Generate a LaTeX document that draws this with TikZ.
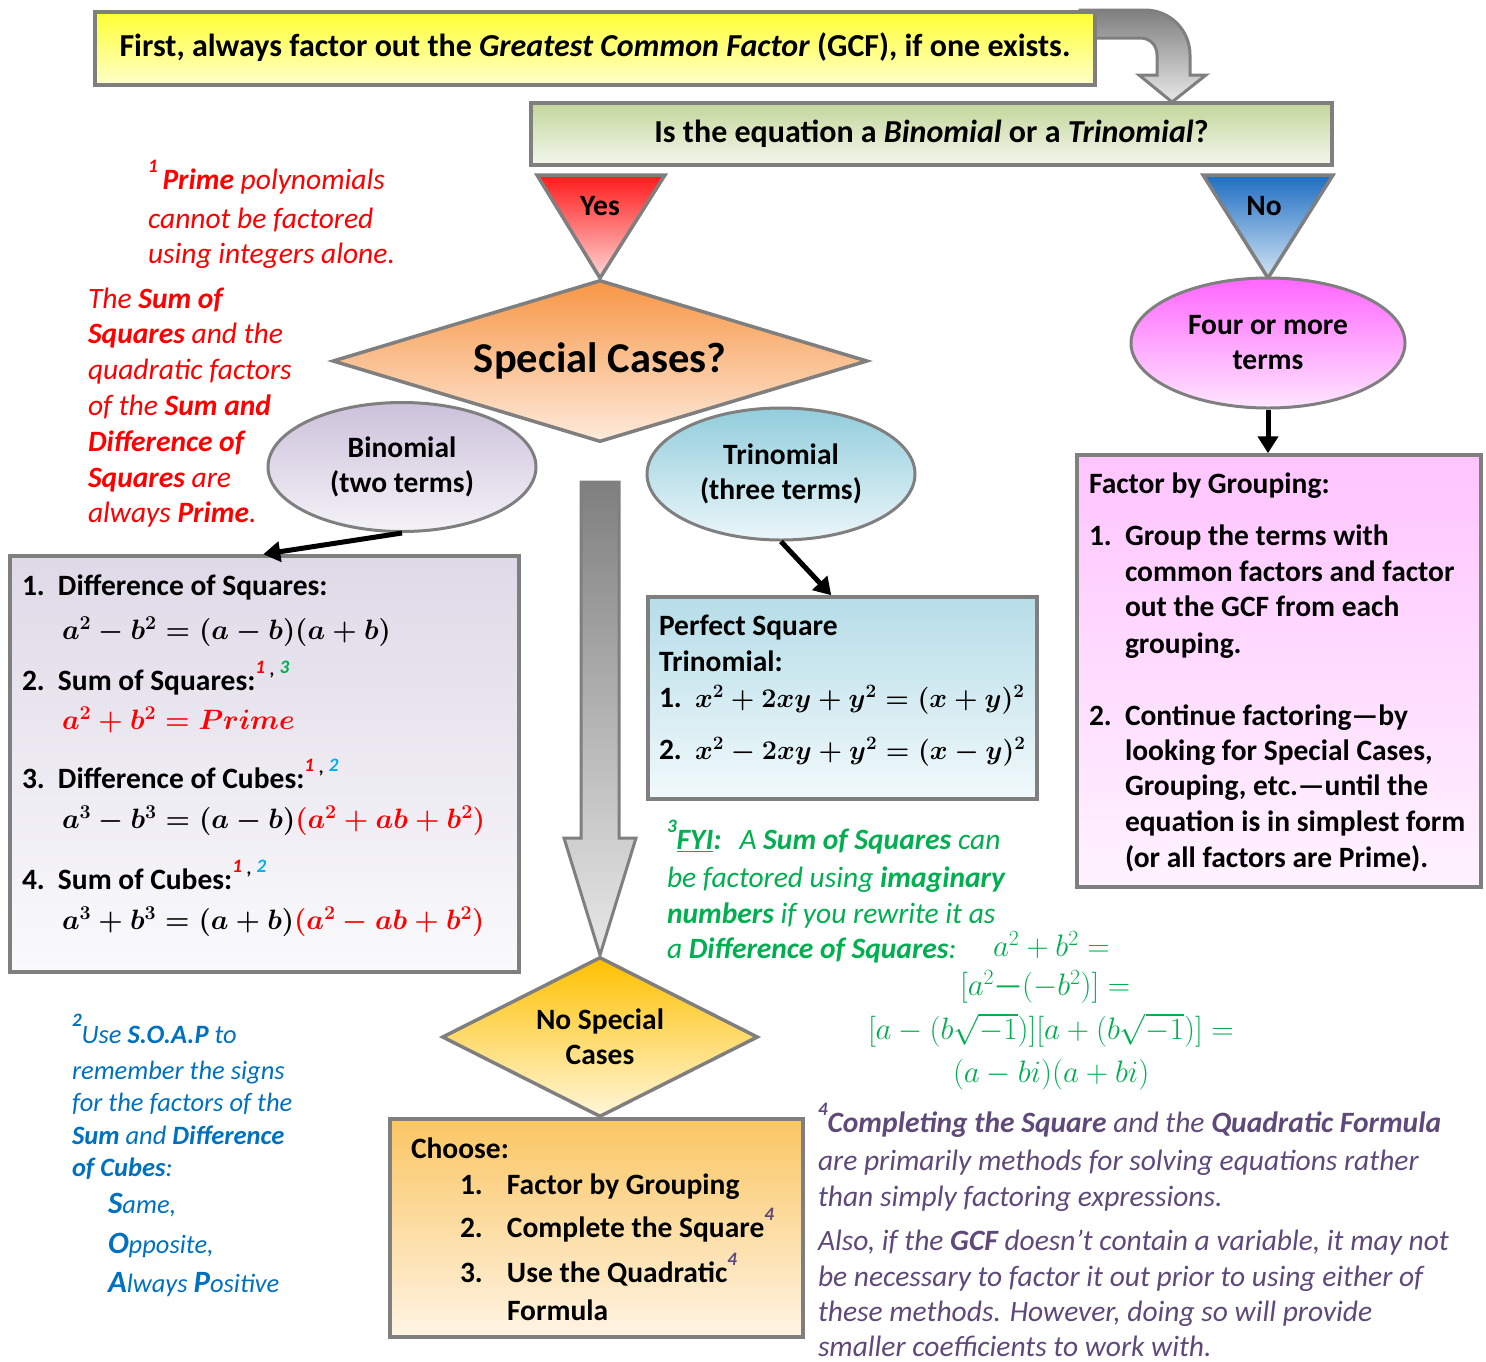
\RequirePackage{fix-cm}
\documentclass[tikz,border=0pt]{standalone}
\usepackage{fontspec}
\setmainfont{Carlito}
\usetikzlibrary{shapes.geometric,arrows.meta}
\definecolor{bord}{HTML}{7F7F7F}
\definecolor{nred}{HTML}{FF0000}
\definecolor{ngreen}{HTML}{00B050}
\definecolor{nblue}{HTML}{0070C0}
\definecolor{npurple}{HTML}{5F497A}
\definecolor{nsky}{HTML}{00B0F0}
\definecolor{ylT}{HTML}{FFFF33}
\definecolor{ylB}{HTML}{FFFFCC}
\definecolor{grT}{HTML}{C3D69B}
\definecolor{grB}{HTML}{F3F7EC}
\definecolor{yesT}{HTML}{FF1A1A}
\definecolor{yesB}{HTML}{FFD6D6}
\definecolor{noT}{HTML}{1F6DC2}
\definecolor{noB}{HTML}{D2E5F4}
\definecolor{spT}{HTML}{F79646}
\definecolor{spB}{HTML}{FDEBDC}
\definecolor{biT}{HTML}{CCC1DA}
\definecolor{biB}{HTML}{F4F2F8}
\definecolor{trT}{HTML}{92CDDC}
\definecolor{trB}{HTML}{EBF6F9}
\definecolor{foT}{HTML}{FF66FF}
\definecolor{foB}{HTML}{FFE6FF}
\definecolor{lbT}{HTML}{DFD9E7}
\definecolor{lbB}{HTML}{FAFAFC}
\definecolor{pbT}{HTML}{B6DDE8}
\definecolor{pbB}{HTML}{F1F9FB}
\definecolor{fbT}{HTML}{FFC4FF}
\definecolor{fbB}{HTML}{FFF3FF}
\definecolor{nsT}{HTML}{FFC000}
\definecolor{nsB}{HTML}{FFF6DA}
\definecolor{chT}{HTML}{FAC663}
\definecolor{chB}{HTML}{FFF4E4}
\definecolor{arT}{HTML}{7F7F7F}
\definecolor{arB}{HTML}{E8E8E8}
\newcommand{\mysup}[2]{\raisebox{17pt}{\fontsize{19}{19}\selectfont\bfseries\itshape\textcolor{#1}{#2}}}
\newcommand{\numb}[1]{\makebox[36pt][l]{#1}}
\newcommand{\bmath}[1]{{\boldmath$#1$}}
\newcommand{\supcomma}{{\fontsize{19}{19}\selectfont\bfseries\itshape\raisebox{15pt}{,}}}
\tikzset{
  box/.style={draw=bord, line width=3.5pt, rectangle, inner sep=0pt},
  shp/.style={draw=bord, line width=3.5pt, inner sep=0pt},
  ln/.style={anchor=mid west, inner sep=0pt, outer sep=0pt, yshift=-6pt},
  bln/.style={ln, font=\fontsize{29.5}{35}\selectfont\bfseries},
  mth/.style={ln, font=\fontsize{28}{35}\selectfont},
  gmth/.style={ln, text=ngreen, font=\fontsize{31}{35}\selectfont},
  rnote/.style={ln, text=nred, font=\fontsize{29.5}{35}\selectfont\itshape},
  gnote/.style={ln, text=ngreen, font=\fontsize{29.5}{35}\selectfont\itshape},
  bnote/.style={ln, text=nblue, font=\fontsize{26.5}{35}\selectfont\itshape},
  pnote/.style={ln, text=npurple, font=\fontsize{29.5}{35}\selectfont\itshape},
  lbl/.style={font=\fontsize{29.5}{35}\selectfont\bfseries, align=center, inner sep=0pt},
  blk/.style={-{Triangle[length=17pt,width=20pt]}, line width=5pt, black},
  gry/.style={draw=bord, line width=3pt},
}
\begin{document}
\begin{tikzpicture}[x=1pt,y=-1pt]
\useasboundingbox (0,0) rectangle (1486,1361);
% ---------- curved gray arrow ----------
\path[gry, top color=arT, bottom color=arB]
  (1080,10) -- (1145,10) .. controls (1170,10) and (1190,30) .. (1190,55)
  -- (1190,75) -- (1206,75) -- (1172,102) -- (1139,75) -- (1157,75) -- (1157,55)
  .. controls (1157,45) and (1150,38) .. (1140,38) -- (1080,38) -- cycle;
% ---------- top boxes ----------
\node[box, minimum width=1000pt, minimum height=73pt, top color=ylT, bottom color=ylB,
      font=\fontsize{32}{35}\selectfont\bfseries] (gcf) at (595,48.5)
  {\raisebox{7pt}{First, always factor out the \textit{Greatest Common Factor} (GCF), if one exists.}};
\node[box, minimum width=801pt, minimum height=62pt, top color=grT, bottom color=grB,
      font=\fontsize{32}{35}\selectfont\bfseries] (quest) at (931.5,134)
  {\raisebox{-2pt}{Is the equation a \textit{Binomial} or a \textit{Trinomial}?}};
% ---------- yes / no triangles ----------
\path[shp, top color=yesT, bottom color=yesB] (537,175) -- (665,175) -- (600,278) -- cycle;
\node[lbl] (yes) at (600,206) {Yes};
\path[shp, top color=noT, bottom color=noB] (1203,175) -- (1333,175) -- (1268,278) -- cycle;
\node[lbl] (no) at (1264,206) {No};
% ---------- special cases diamond ----------
\node[diamond, shp, minimum width=535pt, minimum height=162pt, shape aspect=3.3,
      top color=spT, bottom color=spB, font=\fontsize{42.5}{45}\selectfont\bfseries] (spec) at (600,361)
  {\raisebox{4pt}{Special Cases?}};
% ---------- ellipses ----------
\node[ellipse, shp, line width=3pt, minimum width=268pt, minimum height=129pt, top color=biT, bottom color=biB, lbl]
  (bin) at (402,467) {Binomial\\(two terms)};
\node[ellipse, shp, line width=3pt, minimum width=268pt, minimum height=132pt, top color=trT, bottom color=trB, lbl]
  (tri) at (781,474) {Trinomial\\(three terms)};
\node[ellipse, shp, line width=3pt, minimum width=274pt, minimum height=130pt, top color=foT, bottom color=foB, lbl]
  (four) at (1268,343) {Four or more\\terms};
% ---------- big gray arrow ----------
\path[gry, top color=arT, bottom color=arB]
  (581,482) -- (619,482) -- (619,838) -- (636,838) -- (600,955) -- (564,838) -- (581,838) -- cycle;
% ---------- boxes ----------
\node[box, minimum width=509pt, minimum height=416pt, top color=lbT, bottom color=lbB] (lbox) at (264.5,764) {};
\node[box, minimum width=389pt, minimum height=202pt, top color=pbT, bottom color=pbB] (pbox) at (842.5,698) {};
\node[box, minimum width=404pt, minimum height=432pt, top color=fbT, bottom color=fbB] (fbox) at (1279,671) {};
% ---------- no special diamond & choose box ----------
\node[diamond, shp, minimum width=316pt, minimum height=160pt, shape aspect=2,
      top color=nsT, bottom color=nsB, lbl] (nosp) at (600,1037) {No Special\\Cases};
\node[box, minimum width=413pt, minimum height=218pt, top color=chT, bottom color=chB] (cbox) at (596.5,1228) {};
% ---------- black connectors ----------
\draw[blk] (bin.south) -- ([xshift=255pt]lbox.north west);
\draw[blk] (tri.south) -- ([xshift=185pt]pbox.north west);
\draw[blk] (four.south) -- (four.south |- fbox.north);
% ---------- left box text ----------
\node[bln] (l1) at (22,587) {\numb{1.}Difference of Squares:};
\node[mth] (l1m) at (62,631) {\bmath{a^2-b^2=(a-b)(a+b)}};
\node[bln] (l2) at (22,682) {\numb{2.}Sum of Squares:\mysup{nred}{1}\,\supcomma\,\mysup{ngreen}{3}};
\node[mth, text=nred] (l2m) at (62,721) {\bmath{a^2+b^2=Prime}};
\node[bln] (l3) at (22,780) {\numb{3.}Difference of Cubes:\mysup{nred}{1}\,\supcomma\,\mysup{nsky}{2}};
\node[mth] (l3m) at (62,820) {\bmath{a^3-b^3=(a-b)\textcolor{nred}{\bigl(a^2+ab+b^2\bigr)}}};
\node[bln] (l4) at (22,881) {\numb{4.}Sum of Cubes:\mysup{nred}{1}\,\supcomma\,\mysup{nsky}{2}};
\node[mth] (l4m) at (62,921) {\bmath{a^3+b^3=(a+b)\textcolor{nred}{\bigl(a^2-ab+b^2\bigr)}}};
% ---------- perfect square box text ----------
\node[bln] (p1) at (659,627) {Perfect Square};
\node[bln] (p2) at (659,663) {Trinomial:};
\node[bln] (p3) at (659,699) {\numb{1.}{\fontsize{27}{35}\selectfont\bmath{x^2+2xy+y^2=(x+y)^2}}};
\node[bln] (p4) at (659,751) {\numb{2.}{\fontsize{27}{35}\selectfont\bmath{x^2-2xy+y^2=(x-y)^2}}};
% ---------- factor by grouping box text ----------
\node[bln] (f0) at (1089,485) {Factor by Grouping:};
\node[bln] (f1) at (1089,537) {\numb{1.}Group the terms with};
\foreach \yy/\tx [count=\i] in {573/{common factors and factor}, 608/{out the GCF from each}, 645/{grouping.},
  752/{looking for Special Cases,}, 787/{Grouping, etc.---until the}, 823/{equation is in simplest form}, 859/{(or all factors are Prime).}}
  {\node[bln] (fl\i) at (1125,\yy) {\tx};}
\node[bln] (f2) at (1089,717) {\numb{2.}Continue factoring---by};
% ---------- choose box text ----------
\node[bln] (c0) at (411,1150) {Choose:};
\node[bln] (c1) at (460,1186) {\makebox[47pt][l]{1.}Factor by Grouping};
\node[bln] (c2) at (460,1229) {\makebox[47pt][l]{2.}Complete the Square\mysup{npurple}{4}};
\node[bln] (c3) at (460,1274) {\makebox[47pt][l]{3.}Use the Quadratic\mysup{npurple}{4}};
\node[bln] (c4) at (507,1312) {Formula};
% ---------- red notes ----------
\node[rnote] (r1) at (148,181) {\mysup{nred}{1}\,\textbf{Prime} polynomials};
\node[rnote] (r2) at (148,220) {cannot be factored};
\node[rnote] (r3) at (148,255) {using integers alone.};
\foreach \yy/\tx [count=\i] in {300/{The \textbf{Sum of}}, 335/{\textbf{Squares} and the}, 371/{quadratic factors},
  407/{of the \textbf{Sum and}}, 443/{\textbf{Difference of}}, 479/{\textbf{Squares} are}, 514/{always \textbf{Prime}.}}
  {\node[rnote] (rb\i) at (88,\yy) {\tx};}
% ---------- green note ----------
\node[gnote] (g1) at (667,841) {\mysup{ngreen}{3}\underline{\textbf{FYI}}\textbf{:}\hspace{18pt}A \textbf{Sum of Squares} can};
\node[gnote] (g2) at (667,879) {be factored using \textbf{imaginary}};
\node[gnote] (g3) at (667,915) {\textbf{numbers} if you rewrite it as};
\node[gnote] (g4) at (667,950) {a \textbf{Difference of Squares}:};
\node[gmth] (gm1) at (993,948) {$a^2+b^2=$};
\node[gmth] (gm2) at (960,987) {$[a^2\mbox{---}(-b^2)]=$};
\node[gmth] (gm3) at (868,1031) {$\bigl[a-\bigl(b\sqrt{-1}\bigr)\bigr]\bigl[a+\bigl(b\sqrt{-1}\bigr)\bigr]=$};
\node[gmth] (gm4) at (953,1074) {$(a-bi)(a+bi)$};
% ---------- blue note ----------
\node[bnote] (b1) at (72,1035) {\mysup{nblue}{2}Use \textbf{S.O.A.P} to};
\foreach \yy/\tx [count=\i] in {1071/{remember the signs}, 1103/{for the factors of the},
  1136/{\textbf{Sum} and \textbf{Difference}}, 1168/{\textbf{of Cubes}:}}
  {\node[bnote] (bl\i) at (72,\yy) {\tx};}
\node[bnote] (s1) at (108,1205) {{\fontsize{31}{31}\selectfont\bfseries S}ame,};
\node[bnote] (s2) at (108,1245) {{\fontsize{31}{31}\selectfont\bfseries O}pposite,};
\node[bnote] (s3) at (108,1284) {{\fontsize{31}{31}\selectfont\bfseries A}lways {\fontsize{31}{31}\selectfont\bfseries P}ositive};
% ---------- purple note ----------
\node[pnote] (q1) at (818,1124) {\mysup{npurple}{4}\textbf{Completing the Square} and the \textbf{Quadratic Formula}};
\foreach \yy/\tx [count=\i] in {1162/{are primarily methods for solving equations rather},
  1198/{than simply factoring expressions.},
  1242/{Also, if the \textbf{GCF} doesn’t contain a variable, it may not},
  1278/{be necessary to factor it out prior to using either of},
  1313/{these methods. However, doing so will provide},
  1348/{smaller coefficients to work with.}}
  {\node[pnote] (ql\i) at (818,\yy) {\tx};}
\end{tikzpicture}
\end{document}
